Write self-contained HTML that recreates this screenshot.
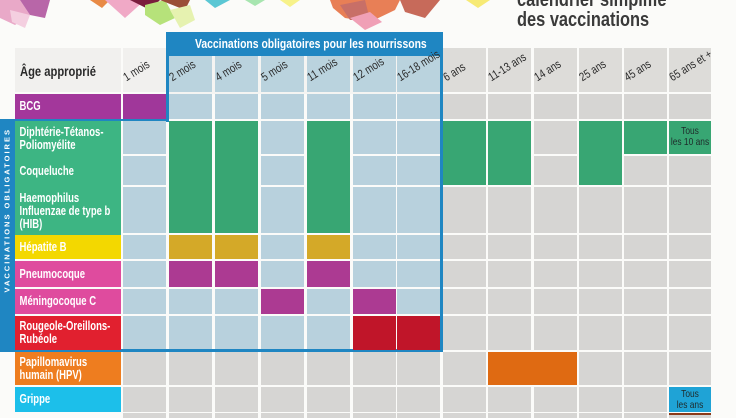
<!DOCTYPE html>
<html><head><meta charset="utf-8">
<style>
html,body{margin:0;padding:0}
body{width:736px;height:414px;overflow:hidden;background:#fbfbf9;position:relative;font-family:"Liberation Sans",sans-serif}
.a{position:absolute;box-sizing:border-box}
.lbl{color:#fff;font-weight:bold;font-size:12.5px;line-height:13px;display:flex;align-items:center;overflow:visible}
.lbl span{display:block;flex-shrink:0;width:150px;transform:scaleX(0.76);transform-origin:left center;padding-left:6px;white-space:pre;box-sizing:border-box}
.hd{font-size:12px;color:#2a2a2a;white-space:nowrap;transform:rotate(-32deg) scaleX(0.8);transform-origin:left bottom}
.note{color:#1e2a2a;font-size:10.5px;line-height:11px;text-align:center;display:flex;align-items:center;justify-content:center}
.note span{display:block;flex-shrink:0;width:60px;transform:scaleX(0.8);white-space:pre;text-align:center}
</style></head>
<body>
<svg class="a" style="left:0;top:0" width="736" height="40">
<polygon points="0,0 20,0 30,15 15,25 0,18" fill="#e9a9c8"/>
<polygon points="20,0 50,0 45,18 30,15" fill="#b866a8"/>
<polygon points="10,10 30,15 25,28 12,22" fill="#f4cfe0"/>
<polygon points="90,0 110,0 102,8" fill="#e88a46"/>
<polygon points="105,0 145,0 125,18" fill="#f0a9c6"/>
<polygon points="130,0 160,0 150,10" fill="#7a1d3d"/>
<polygon points="145,5 165,0 175,18 160,25 145,15" fill="#b6e27a"/>
<polygon points="160,0 190,0 185,10" fill="#9a4f38"/>
<polygon points="170,10 190,5 195,20 180,28" fill="#e6f2b0"/>
<polygon points="205,0 230,0 215,8" fill="#5bc7d4"/>
<polygon points="245,0 265,0 255,6" fill="#a7e5b0"/>
<polygon points="280,0 300,0 290,7" fill="#f7f28a"/>
<polygon points="330,0 400,0 395,10 370,22 345,18 333,8" fill="#e87f56"/>
<polygon points="340,5 365,0 370,20 350,20" fill="#c86f67"/>
<polygon points="350,18 370,12 382,22 365,30" fill="#f0a0b6"/>
<polygon points="400,0 440,0 425,18 405,12" fill="#c76a5a"/>
<polygon points="466,0 490,0 478,8" fill="#f7ea75"/>
</svg>
<div class="a" style="left:517px;top:-10px;font-weight:bold;font-size:20px;line-height:20px;color:#3a3a3a;white-space:nowrap;transform:scaleX(0.82);transform-origin:left top">calendrier simplifié<br>des vaccinations</div>
<div id="grid" class="a" style="left:0;top:0;width:736px;height:414px"></div>
<script>
const columns=["1 mois","2 mois","4 mois","5 mois","11 mois","12 mois","16-18 mois","6 ans","11-13 ans","14 ans","25 ans","45 ans","65 ans et +"];
const colX=[123,169,215,261,307,353,397,443,488,534,579,624,669];
const vaccines=["BCG","Diphtérie-Tétanos-\nPoliomyélite","Coqueluche","Haemophilus\nInfluenzae de type b\n(HIB)","Hépatite B","Pneumocoque","Méningocoque C","Rougeole-Oreillons-\nRubéole","Papillomavirus\nhumain (HPV)","Grippe"];
const rowY=[94,121,156,187,235,261,289,316,352,387];
const rowH=[25,33,29,46,24,26,25,34,33,25];
const labelColors=["#a3379b","#3db583","#3db583","#3db583","#f3d800","#df4b9e","#df4b9e","#e1202f","#ee7d1f","#1cbfea"];
// marks: [rowStart,rowEnd,colStart,colEnd,color,note]
const marks=[
[0,0,0,0,"#a0379a",""],
[1,3,1,1,"#38a673",""],[1,3,2,2,"#38a673",""],[1,3,4,4,"#38a673",""],
[1,2,7,7,"#38a673",""],[1,2,8,8,"#38a673",""],[1,2,10,10,"#38a673",""],
[1,1,11,11,"#38a673",""],[1,1,12,12,"#38a673","Tous\nles 10 ans"],
[4,4,1,1,"#d4a928",""],[4,4,2,2,"#d4a928",""],[4,4,4,4,"#d4a928",""],
[5,5,1,1,"#ac3a92",""],[5,5,2,2,"#ac3a92",""],[5,5,4,4,"#ac3a92",""],
[6,6,3,3,"#ac3a92",""],[6,6,5,5,"#ac3a92",""],
[7,7,5,5,"#c01529",""],[7,7,6,6,"#c01529",""],
[8,8,8,9,"#df6a12",""],
[9,9,12,12,"#1fa3d6","Tous\nles ans"]
];
const g=document.getElementById('grid');
function box(x,y,w,h,bg){const d=document.createElement('div');d.className='a';d.style.cssText=`left:${x}px;top:${y}px;width:${w}px;height:${h}px;background:${bg}`;g.appendChild(d);return d;}
function inBlue(c,r){ if(r>7) return false; if(c>=1&&c<=6) return true; if(c===0&&r>=1) return true; return false;}
const bo=box(166,32,277,60,"#1f86c2");


bo.innerHTML='<div style="position:absolute;left:0;top:4px;width:277px;text-align:center;color:#fff;font-weight:bold;font-size:13px;white-space:nowrap"><span style="display:inline-block;transform:scaleX(0.8)">Vaccinations obligatoires pour les nourrissons</span></div>';
const wb=box(169,56,271,38,"#f4f4f2");


const ext=[...rowY,413],exth=[...rowH,5];
for(let c=0;c<columns.length;c++){
  const w=c===12?42:43;
  const top=(c>=1&&c<=6)?56:48;
  const hb=box(colX[c],top,w,92-top,c===0?"#f1f0ee":(c<=6?"#bad3de":"#dddcd9"));
  
  
  const t=document.createElement('div');t.className='a hd';t.textContent=columns[c];
  t.style.left=(colX[c]+5)+'px';t.style.top='70px';
  
  
  g.appendChild(t);
  for(let r=0;r<ext.length;r++){
    const cell=box(colX[c],ext[r],w,exth[r],inBlue(c,r)?"#b8d1dd":"#d6d5d3");
    
    
  }
}
const ah=box(15,48,106,44,"#f1f0ee");


ah.innerHTML='<div style="position:absolute;left:5px;top:15px;font-size:14px;font-weight:bold;color:#2a2a2a;white-space:nowrap;transform:scaleX(0.8);transform-origin:left">Âge approprié</div>';
[[166,32,3,90],[440,32,3,320],[0,119,169,2],[0,349,443,3],[0,119,15,233]].forEach(b=>{const d=box(b[0],b[1],b[2],b[3],"#1f86c2");
  
  });
const vt=document.createElement('div');vt.className='a';
vt.style.cssText='left:-50px;top:229px;width:115px;height:12px;transform:rotate(-90deg);color:#fff;font-weight:bold;font-size:7.5px;letter-spacing:2px;text-align:center;line-height:12px;white-space:nowrap';
vt.textContent='VACCINATIONS OBLIGATOIRES';


g.appendChild(vt);
for(let r=0;r<vaccines.length;r++){
  let y=rowY[r],h=rowH[r];
  if(r===1){y=121;h=35} else if(r===2){y=156;h=31} else if(r===3){y=187;h=48}
  const l=box(15,y,106,h,labelColors[r]);l.className='a lbl';
  const s=document.createElement('span');s.textContent=vaccines[r];l.appendChild(s);
  
  
}
marks.forEach(m=>{
  const x=colX[m[2]],x2=colX[m[3]]+(m[3]===12?42:43);
  const y=rowY[m[0]],y2=rowY[m[1]]+rowH[m[1]];
  const d=box(x,y,x2-x,y2-y,m[4]);
  if(m[5]){d.className='a note';if(y2-y>28){d.style.alignItems='flex-start';d.style.paddingTop='5px';}const s=document.createElement('span');s.textContent=m[5];d.appendChild(s);}
  
  
});
const br=box(669,413,42,2,"#8a3a1a");


</script>
</body></html>
